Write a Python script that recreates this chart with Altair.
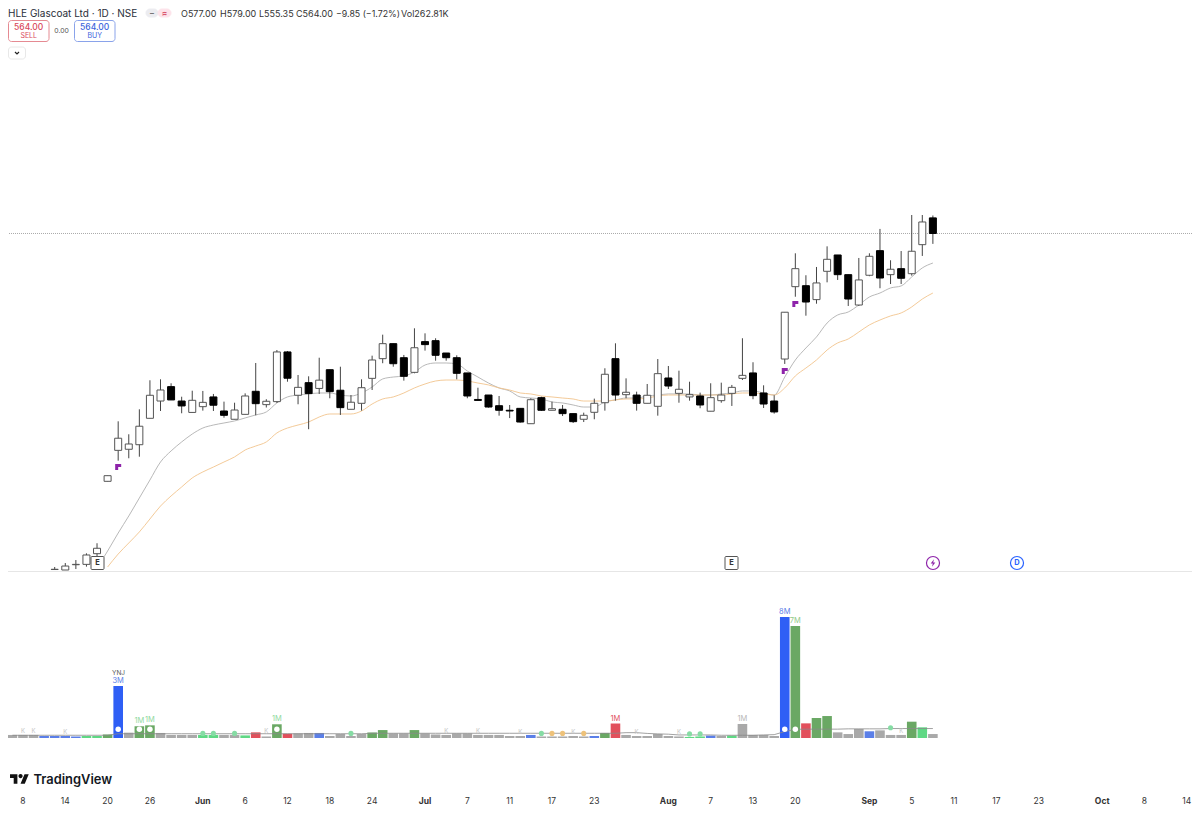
import altair as alt
import pandas as pd

opens = [284.0,283.6,288.0,288.3,297.2,357.5,383.3,384.2,388.0,410.0,424.4,436.4,424.4,414.9,419.7,427.8,416.1,409.2,413.3,432.5,421.4,423.9,465.3,429.2,439.7,434.9,450.5,433.4,417.5,422.5,443.3,459.7,472.2,460.5,448.3,473.9,474.7,464.4,460.5,447.8,425.7,429.4,420.5,416.7,418.3,405.5,427.2,416.7,417.5,413.9,409.2,415.0,423.0,459.7,429.7,429.4,422.5,420.0,443.6,430.8,427.8,428.6,415.9,424.7,430.8,443.3,447.8,431.1,424.4,459.4,519.7,520.5,508.9,532.5,546.1,529.7,504.4,529.2,549.7,529.7,534.7,530.5,554.7,577.0]
highs = [286.1,289.4,291.9,297.5,305.9,362.2,407.5,396.7,417.5,441.7,442.5,439.2,428.0,433.0,432.8,430.3,423.9,423.0,430.8,456.1,425.9,466.9,466.1,446.1,445.0,460.5,450.5,453.0,429.4,442.5,462.2,479.7,472.2,462.8,485.0,480.8,476.7,464.4,462.5,447.8,435.5,429.4,428.6,421.1,418.3,426.7,428.0,423.9,421.1,413.9,414.7,426.4,451.7,472.5,443.3,432.2,438.6,459.4,453.6,449.7,440.5,431.4,439.2,439.7,437.8,476.7,456.7,437.5,429.2,498.4,547.5,529.2,536.1,553.3,546.1,529.7,543.6,547.5,567.8,541.7,549.4,579.4,579.4,579.0]
lows = [283.6,283.6,284.4,286.4,293.6,357.5,374.7,376.7,378.0,410.0,416.1,425.3,414.2,414.9,416.4,416.1,410.5,409.2,413.3,412.5,419.0,422.8,440.5,421.7,400.9,430.3,426.7,412.8,417.5,416.4,433.6,455.9,453.0,441.4,447.5,466.4,458.0,458.0,442.5,426.7,424.9,418.9,412.2,410.2,406.4,405.5,416.1,416.7,411.9,406.1,406.9,409.2,416.4,424.7,426.7,416.4,422.5,412.2,434.4,423.0,424.7,418.4,415.9,423.0,420.3,441.9,425.9,418.6,413.9,455.3,511.3,495.5,505.5,523.3,525.3,503.6,503.6,528.4,518.4,521.9,521.9,528.9,545.3,555.35]
closes = [284.2,286.9,288.3,296.1,301.7,362.2,393.4,388.6,403.4,429.2,433.6,425.3,420.3,425.0,423.3,420.9,412.5,416.9,428.6,422.2,424.2,465.3,443.4,435.8,430.6,441.8,432.2,418.9,423.4,435.5,458.6,472.2,455.5,445.0,468.8,471.4,462.5,460.5,447.5,428.6,424.9,419.4,416.7,416.1,406.9,425.5,416.7,418.0,413.9,407.2,412.5,422.5,446.7,429.4,431.7,422.5,429.2,447.2,436.9,434.2,429.7,421.1,427.2,429.4,435.8,445.8,428.9,421.9,415.3,498.4,534.7,506.9,522.8,542.5,529.7,509.4,525.3,545.0,526.9,534.2,526.7,549.2,573.6,564.0]

grey_avg = [285.3,299.4,314.4,328.6,343.6,358.6,373.6,382.8,390.3,396.9,401.9,404.4,406.1,407.8,410.3,412.8,415.3,422.8,427.8,429.4,430.3,431.1,431.1,429.4,428.6,431.1,436.1,442.8,444.4,445.3,448.6,454.4,456.1,456.1,455.3,449.4,444.4,439.4,435.3,432.8,427.8,426.9,426.1,423.6,422.8,421.1,419.4,419.4,423.6,425.3,426.9,426.9,428.6,429.4,430.3,430.3,430.3,429.4,429.4,430.3,431.1,432.8,432.8,431.1,429.4,444.4,458.6,468.6,477.8,489.4,496.1,498.6,504.4,511.1,514.4,518.6,520.3,527.8,535.3,539.4]
orange_avg = [286.1,296.9,306.1,315.3,326.1,336.9,345.3,352.8,360.3,365.3,369.4,373.6,377.8,383.6,386.9,390.3,397.8,401.9,404.4,406.9,411.1,413.6,413.6,413.6,416.1,421.9,426.1,427.8,431.1,435.3,438.6,441.1,441.9,441.9,441.1,439.4,437.8,435.3,433.6,431.1,430.3,428.6,427.8,426.9,426.1,424.4,424.4,424.4,425.3,426.1,426.1,426.9,428.6,429.4,429.4,429.4,429.4,429.4,429.4,430.3,431.1,431.1,430.3,429.4,435.3,445.3,451.9,458.6,466.9,472.8,476.1,481.9,487.8,491.9,495.3,497.8,502.8,509.4,514.4]

flag_idx = [6, 69, 70]
flag_price = [369.4, 449.4, 505.3]

# volumes, in millions, from index -4 to 83
vol_idx = list(range(-4, 84))
volumes = [0.2,0.2,0.2,0.13,  # -4..-1
           0.13,0.13,0.1,0.13,0.13,0.23,  # 0..5
           3.41,0.35,0.77,0.83,0.33,0.2,0.2,0.2,0.2,0.2,0.2,0.2,0.17,0.37,0.1,0.9,  # 6..21
           0.28,0.3,0.33,0.33,0.13,0.26,0.13,0.26,0.36,0.52,0.3,0.3,0.52,0.3,0.23,0.2,  # 22..37
           0.3,0.3,0.2,0.2,0.2,0.13,0.13,0.2,0.1,0.1,0.1,0.13,0.1,0.13,0.33,0.95,  # 38..53
           0.2,0.13,0.13,0.26,0.13,0.1,0.07,0.1,0.16,0.13,0.16,0.92,0.2,0.2,0.13,  # 54..68
           7.93,7.34,0.96,1.31,1.44,0.37,0.26,0.59,0.44,0.5,0.2,0.2,1.07,0.7,0.26]  # 69..83
BLUE, LBLUE, GREEN, LGREEN, RED, GREY = "#2f5ff5", "#5b7fe8", "#6aa864", "#5fd884", "#e2505c", "#a9a9a9"
vol_cols = [GREY,GREY,GREY,LBLUE,
            LBLUE,LBLUE,LBLUE,LGREEN,LGREEN,GREEN,
            BLUE,GREY,GREEN,GREEN,GREY,GREY,GREY,GREY,LGREEN,LGREEN,GREY,GREY,LGREEN,RED,GREY,GREEN,
            RED,GREY,GREY,LBLUE,GREY,GREY,GREY,GREY,GREEN,GREEN,GREY,GREY,GREEN,GREY,GREY,GREY,
            GREY,GREY,GREY,GREY,GREY,GREY,GREY,LBLUE,GREY,GREY,GREY,GREY,GREY,LBLUE,GREEN,RED,
            GREY,GREY,GREY,GREY,GREY,GREY,LGREEN,LGREEN,LBLUE,GREY,LGREEN,GREY,GREY,GREY,GREY,
            BLUE,GREEN,RED,GREEN,GREEN,GREY,GREY,GREY,LBLUE,GREY,GREY,GREY,GREEN,LGREEN,GREY]
vol_avg = [0.18,0.18,0.18,0.18,0.18,0.18,0.18,0.18,0.18,0.18,
           0.28,0.28,0.28,0.28,0.28,0.28,0.28,0.28,0.28,0.28,0.28,0.28,0.28,0.28,0.28,0.28,0.28,0.28,0.28,0.28,0.28,0.28,0.28,0.28,
           0.31,0.31,0.31,0.31,0.31,0.31,0.31,0.31,0.31,0.31,0.31,0.31,0.31,0.31,0.31,0.31,0.31,0.31,0.31,0.31,0.31,0.31,0.31,0.31,
           0.35,0.35,0.3,0.27,0.25,0.2,0.2,0.2,0.2,0.18,0.18,0.18,0.18,0.2,0.22,
           0.42,0.57,0.58,0.58,0.58,0.58,0.6,0.6,0.6,0.6,0.62,0.62,0.62,0.62,0.62]

vol_label_idx = [6, 8, 9, 21, 53, 65, 69, 70]
vol_label_txt = ["3M", "1M", "1M", "1M", "1M", "1M", "8M", "7M"]
vol_label_val = [3.41, 0.77, 0.83, 0.9, 0.95, 0.92, 7.93, 7.34]
vol_label_col = [LBLUE, "#8fd9a0", "#8fd9a0", "#8fd9a0", RED, "#b8b8b8", LBLUE, "#8fc98a"]
faint_idx = [-3, -2, 1, 20, 37, 40, 44, 49, 55, 59, 80]
faint_val = [0.2, 0.2, 0.13, 0.17, 0.2, 0.2, 0.13, 0.13, 0.13, 0.1, 0.2]

white_idx = [6, 8, 9, 21, 69, 70]
white_val = [0.57, 0.57, 0.57, 0.57, 0.57, 0.57]
dot_idx = [14, 15, 17, 28, 46, 60, 61, 79, 47, 48, 50]
dot_val = [0.3, 0.3, 0.3, 0.3, 0.3, 0.27, 0.27, 0.67, 0.3, 0.3, 0.3]
dot_col = ["#86dca4"] * 8 + ["#eec27a"] * 3

tick_idx = [-3, 1, 5, 9, 18, 22, 26, 30, 39, 43, 47, 51, 62, 66, 70, 81, 85, 89, 93, 103, 107]
tick_txt = ["8", "14", "20", "26", "6", "12", "18", "24", "7", "11", "17", "23", "7", "13", "20", "5", "11", "17", "23", "8", "14"]
month_idx = [14, 35, 58, 77, 99]
month_txt = ["Jun", "Jul", "Aug", "Sep", "Oct"]

FONT = "Inter"
n = len(opens)
idx = list(range(n))
candles = pd.DataFrame({"i": idx, "o": opens, "h": highs, "l": lows, "c": closes})
candles["fill"] = ["#ffffff" if c >= o else "#000000" for o, c in zip(opens, closes)]
candles["stroke"] = ["#555555" if c >= o else "#000000" for o, c in zip(opens, closes)]

x_scale = alt.Scale(domain=[-4.414, 107.49], nice=False, zero=False, padding=0)
p_scale = alt.Scale(domain=[283.6, 751.9], range=[562, 0], nice=False, zero=False, clamp=True)
v_scale = alt.Scale(domain=[0, 8], range=[730, 608], nice=False, zero=False)

X = alt.X("i:Q", scale=x_scale, axis=None)
one = pd.DataFrame({"a": [0]})


def series(values):
    return pd.DataFrame({"i": idx[-len(values):], "v": values})


def text(s, x, y, size=8.5, color="#333333", align="left", weight=400, font=FONT):
    return alt.Chart(pd.DataFrame({"t": [s]})).mark_text(
        align=align, baseline="middle", fontSize=size, color=color, fontWeight=weight, font=font
    ).encode(x=alt.value(x - 8), y=alt.value(y - 8), text="t:N")


def box(x0, x1, y0, y1, stroke, fill="#ffffff", r=3):
    return alt.Chart(one).mark_rect(fill=fill, stroke=stroke, strokeWidth=1, cornerRadius=r).encode(
        x=alt.value(x0 - 8), x2=alt.value(x1 - 8), y=alt.value(y0 - 8), y2=alt.value(y1 - 8))


def glyph(path, x, y, size, color, filled=True, sw=1.0):
    m = alt.Chart(one).mark_point(shape=path, size=size, filled=filled, opacity=1,
                                  color=color, strokeWidth=sw)
    return m.encode(x=alt.value(x - 8), y=alt.value(y - 8))


def tick_labels(positions, labels, weight):
    return alt.Chart(pd.DataFrame({"i": positions, "t": labels})).mark_text(
        baseline="middle", fontSize=8.5, color="#333333", fontWeight=weight, font=FONT
    ).encode(x=X, y=alt.value(793), text="t:N")


last_line = alt.Chart(pd.DataFrame({"p": [564.0]})).mark_rule(color="#aaaaaa", strokeWidth=1, strokeDash=[1, 1]).encode(
    y=alt.Y("p:Q", scale=p_scale, axis=None))
sep_line = alt.Chart(one).mark_rule(color="#e6e6e6", strokeWidth=1).encode(y=alt.value(563.5))

line_grey = alt.Chart(series(grey_avg)).mark_line(color="#b0b0b0", strokeWidth=0.9, interpolate="monotone").encode(
    x=X, y=alt.Y("v:Q", scale=p_scale, axis=None))
line_orange = alt.Chart(series(orange_avg)).mark_line(color="#f2c48d", strokeWidth=0.9, interpolate="monotone").encode(
    x=X, y=alt.Y("v:Q", scale=p_scale, axis=None))

wicks = alt.Chart(candles).mark_rule(color="#444444", strokeWidth=1).encode(
    x=X, y=alt.Y("l:Q", scale=p_scale, axis=None), y2="h:Q")
bodies = alt.Chart(candles).mark_bar(orient="vertical", size=7, strokeWidth=1).encode(
    x=X, y=alt.Y("o:Q", scale=p_scale, axis=None), y2="c:Q",
    fill=alt.Fill("fill:N", scale=None), stroke=alt.Stroke("stroke:N", scale=None))

flags = alt.Chart(pd.DataFrame({"i": flag_idx, "p": flag_price})).mark_point(
    shape="M-1,-1 L1,-1 L1,0 L0,0 L0,1 L-1,1 Z", size=36, filled=True, opacity=1, color="#8e24aa").encode(
    x=X, y=alt.Y("p:Q", scale=p_scale, axis=None))

vol = pd.DataFrame({"i": vol_idx, "v": volumes, "col": vol_cols})
vol_bars = alt.Chart(vol).mark_bar(orient="vertical", size=9.6).encode(
    x=X, y=alt.Y("v:Q", scale=v_scale, axis=None), fill=alt.Fill("col:N", scale=None))
vol_line = alt.Chart(pd.DataFrame({"i": vol_idx, "v": vol_avg})).mark_line(color="#8a8a8a", strokeWidth=0.8).encode(
    x=X, y=alt.Y("v:Q", scale=v_scale, axis=None))
vol_labels = alt.Chart(pd.DataFrame({"i": vol_label_idx, "v": vol_label_val, "t": vol_label_txt, "col": vol_label_col})).mark_text(
    baseline="bottom", fontSize=7.5, dy=-1, font=FONT).encode(
    x=X, y=alt.Y("v:Q", scale=v_scale, axis=None), text="t:N", color=alt.Color("col:N", scale=None))
faint = alt.Chart(pd.DataFrame({"i": faint_idx, "v": faint_val, "t": ["K"] * len(faint_idx)})).mark_text(
    baseline="bottom", fontSize=6, dy=-1, color="#c4c4c4", font=FONT).encode(
    x=X, y=alt.Y("v:Q", scale=v_scale, axis=None), text="t:N")
white_dots = alt.Chart(pd.DataFrame({"i": white_idx, "v": white_val})).mark_point(
    shape="circle", filled=True, size=30, color="#ffffff", opacity=1).encode(
    x=X, y=alt.Y("v:Q", scale=v_scale, axis=None))
dots = alt.Chart(pd.DataFrame({"i": dot_idx, "v": dot_val, "col": dot_col})).mark_point(
    shape="circle", filled=True, size=26, opacity=1).encode(
    x=X, y=alt.Y("v:Q", scale=v_scale, axis=None), fill=alt.Fill("col:N", scale=None))
yoy = text("YNJ", 118.5, 672.5, size=6.5, color="#555555", align="center")

BOLT = "M0.25,-1 L-0.6,0.15 L-0.05,0.15 L-0.25,1 L0.6,-0.15 L0.05,-0.15 Z"
TV = ("M-.222,.5 L-.611,.5 L-.611,-.111 L-1,-.111 L-1,-.5 L-.222,-.5 Z "
      "M.556,.5 L.111,.5 L.528,-.5 L.972,-.5 Z "
      "M-.111,-.306 a.222,.222 0 1 0 .444,0 a.222,.222 0 1 0 -.444,0 Z")


def circle_badge(x, color):
    return alt.Chart(one).mark_point(shape="circle", size=170, filled=True, fill="#ffffff", stroke=color,
                                     strokeWidth=1.2, opacity=1).encode(x=alt.value(x - 8), y=alt.value(555))


HEAD_Y = 14
layers = [
    last_line, sep_line, line_grey, line_orange, wicks, bodies, flags,
    vol_bars, vol_line, vol_labels, faint, white_dots, dots, yoy,
    tick_labels(tick_idx, tick_txt, 400), tick_labels(month_idx, month_txt, 700),
    box(91, 104, 556.5, 569.5, "#555555", r=1), text("E", 97.5, 563.3, size=7.5, color="#333333", align="center", weight=700),
    box(725, 738, 556.5, 569.5, "#555555", r=1), text("E", 731.5, 563.3, size=7.5, color="#333333", align="center", weight=700),
    circle_badge(933, "#8e24aa"), glyph(BOLT, 933, 563, 60, "#8e24aa"),
    circle_badge(1017, "#2962ff"), text("D", 1017, 563.3, size=7.5, color="#2962ff", align="center", weight=700),
    text("HLE Glascoat Ltd · 1D · NSE", 8, HEAD_Y, size=10, color="#2a2e39"),
    box(146, 158, 9, 17, "#ececf0", "#ececf0", 4), box(158, 171, 9, 17, "#fde3ea", "#fde3ea", 4),
    text("−", 152, HEAD_Y, size=8, color="#777777", align="center", weight=700),
    text("≈", 164.5, HEAD_Y, size=8, color="#d9576e", align="center", weight=700),
    text("O577.00", 181, HEAD_Y, size=9), text("H579.00", 220, HEAD_Y, size=9), text("L555.35", 259, HEAD_Y, size=9), text("C564.00", 296, HEAD_Y, size=9),
    text("−9.85 (−1.72%)", 336, HEAD_Y, size=8.8), text("Vol262.81K", 401, HEAD_Y, size=9),
    box(8.5, 49, 20.5, 41.5, "#e58a92"), text("564.00", 28.7, 27, size=8.5, color="#d9485a", align="center", weight=500),
    text("SELL", 28.7, 36, size=7, color="#d9485a", align="center"),
    text("0.00", 61.5, 31, size=6.8, color="#555555", align="center"),
    box(74.5, 115, 20.5, 41.5, "#8aa3ea"), text("564.00", 94.7, 27, size=8.5, color="#3c64dc", align="center", weight=500),
    text("BUY", 94.7, 36, size=7, color="#3c64dc", align="center"),
    box(8.5, 25.5, 47, 59, "#e8e8e8"), glyph("M-1,-0.5 L0,0.5 L1,-0.5", 17, 53, 16, "#222222", filled=False, sw=1.2),
    glyph(TV, 19.5, 779, 360, "#111111"),
    text("TradingView", 33.5, 779.5, size=12.9, color="#131722", weight=600),
]

chart = alt.layer(*layers).resolve_scale(y="independent").properties(
    width=1184, height=798, padding=0, background="#ffffff",
    autosize=alt.AutoSizeParams(type="none"),
).configure_view(stroke=None)

chart.save("out.html", embed_options={"renderer": "svg", "actions": False})
